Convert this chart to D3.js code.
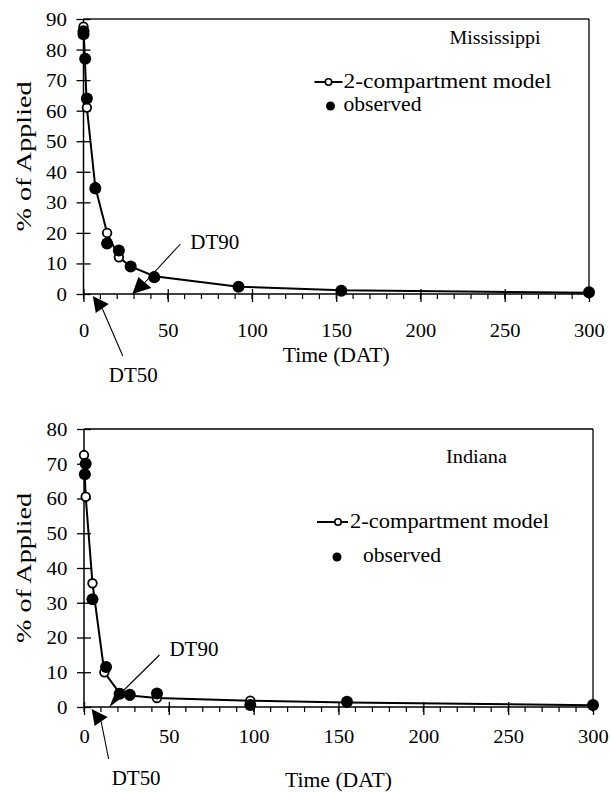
<!DOCTYPE html>
<html>
<head>
<meta charset="utf-8">
<script src="https://cdn.jsdelivr.net/npm/d3@7/dist/d3.min.js"></script>
<style>
  body { margin: 0; background: #fff; }
</style>
</head>
<body>
<svg id="chart" width="610" height="793"></svg>
<script>

var SERIF = "'Liberation Serif', 'Times New Roman', Times, serif";

// Mississippi panel (days after treatment, % of applied)
var msModelDays = [0, 2, 7, 14, 21, 28, 42, 92, 153, 300];
var msModelPct  = [87.5, 61, 35, 20, 12, 9, 5.8, 2.4, 1.2, 0.4];
var msObsDays   = [0, 0, 1, 2, 7, 14, 21, 28, 42, 92, 153, 300];
var msObsPct    = [86, 85, 77, 64, 34.5, 16.5, 14.2, 9, 5.5, 2.4, 1.1, 0.6];
var msYTicks    = [0, 10, 20, 30, 40, 50, 60, 70, 80, 90];
var msDT50 = 5.5, msDT90 = 29;

// Indiana panel
var inModelDays = [0, 1, 5, 12, 21, 27, 43, 98, 155, 300];
var inModelPct  = [72.5, 60.5, 35.6, 10, 4.0, 3.3, 2.6, 1.8, 1.3, 0.5];
var inObsDays   = [1, 0.5, 5, 13, 21, 27, 43, 98, 155, 300];
var inObsPct    = [70, 67, 31, 11.5, 3.8, 3.5, 3.9, 0.6, 1.5, 0.6];
var inYTicks    = [0, 10, 20, 30, 40, 50, 60, 70, 80];
var inDT50 = 4.5, inDT90 = 15;

var xTicks = [0, 50, 100, 150, 200, 250, 300];
var xMinor = d3.range(0, 301, 10);

var svg = d3.select("#chart");

// text with forced width so it matches the scanned lettering
function label(g, txt, x, y, size, len, anchor) {
  var t = g.append("text")
    .attr("x", x).attr("y", y)
    .style("font-family", SERIF)
    .style("font-size", size + "px")
    .attr("fill", "#000")
    .attr("text-anchor", anchor || "start")
    .text(txt);
  if (len) t.attr("textLength", len).attr("lengthAdjust", "spacingAndGlyphs");
  return t;
}

function drawPanel(p) {
  var w = p.right - p.left, h = p.bottom - p.top;
  var g = svg.append("g").attr("transform", "translate(" + p.left + "," + p.top + ")");

  var x = d3.scaleLinear().domain([0, 300]).range([0, w]);
  var y = d3.scaleLinear().domain([0, p.yMax]).range([h, 0]);

  // frame (top + right)
  g.append("line").attr("x1", 0).attr("x2", w).attr("y1", 0).attr("y2", 0)
    .attr("stroke", p.topColor).attr("stroke-width", p.topWidth);
  g.append("line").attr("x1", w).attr("x2", w).attr("y1", 0).attr("y2", h)
    .attr("stroke", "#000").attr("stroke-width", 1.3);

  // y axis
  var yAx = g.append("g").call(d3.axisLeft(y).tickValues(p.yTicks).tickSize(7).tickPadding(8));
  yAx.attr("font-family", null).attr("font-size", null);
  yAx.select(".domain").attr("stroke-width", 1.5).attr("d", "M0," + h + "V0");
  yAx.selectAll(".tick line").attr("x1", -7).attr("x2", 7).attr("stroke-width", 1.3);
  yAx.selectAll(".tick text").attr("x", -15)
    .style("font-family", SERIF).style("font-size", "19px")
    .attr("transform", "scale(1.1,1)").attr("dy", "0.34em");

  // x axis, minor ticks first
  g.append("g").selectAll("line").data(xMinor).enter().append("line")
    .attr("x1", function(d) { return x(d); }).attr("x2", function(d) { return x(d); })
    .attr("y1", h).attr("y2", h + 5).attr("stroke", "#000").attr("stroke-width", 1.2);
  var xAx = g.append("g").attr("transform", "translate(0," + h + ")")
    .call(d3.axisBottom(x).tickValues(xTicks).tickSize(8).tickPadding(0));
  xAx.attr("font-family", null).attr("font-size", null);
  xAx.select(".domain").attr("stroke-width", 1.5).attr("d", "M0,0H" + w);
  xAx.selectAll(".tick line").attr("y1", -5).attr("y2", 8).attr("stroke-width", 1.3);
  xAx.selectAll(".tick text")
    .style("font-family", SERIF).style("font-size", "19px")
    .attr("y", p.xLabelY).attr("dy", 0)
    .attr("transform", "scale(1.08,1)");

  // axis titles
  label(g, "Time (DAT)", w / 2, h + p.titleY, 21, 107, "middle");
  label(g, "% of Applied", 0, 0, 20, 150, "middle")
    .attr("transform", "translate(" + (31 - p.left) + "," + (h / 2) + ") rotate(-90)");

  // model line + markers
  var model = p.modelDays.map(function(d, i) { return { t: d, v: p.modelPct[i] }; });
  var obs = p.obsDays.map(function(d, i) { return { t: d, v: p.obsPct[i] }; });

  g.append("path").datum(model)
    .attr("fill", "none").attr("stroke", "#000").attr("stroke-width", 2)
    .attr("d", d3.line().x(function(d) { return x(d.t); }).y(function(d) { return y(d.v); }));

  g.selectAll(".open").data(model).enter().append("circle").attr("class", "open")
    .attr("cx", function(d) { return x(d.t); }).attr("cy", function(d) { return y(d.v); })
    .attr("r", 4.3).attr("fill", "#fff").attr("stroke", "#000").attr("stroke-width", 1.8);

  g.selectAll(".obs").data(obs).enter().append("circle").attr("class", "obs")
    .attr("cx", function(d) { return x(d.t); }).attr("cy", function(d) { return y(d.v); })
    .attr("r", 6).attr("fill", "#000");

  // DT50 / DT90 arrows
  function arrow(day, dy, tri, lineEnd, txt, txtPos) {
    var a = g.append("g").attr("transform", "translate(" + x(day) + "," + (h + dy) + ")");
    a.append("path")
      .attr("d", "M0,0L" + tri[0][0] + "," + tri[0][1] + "L" + tri[1][0] + "," + tri[1][1] + "Z")
      .attr("fill", "#000");
    var mx = (tri[0][0] + tri[1][0]) / 2, my = (tri[0][1] + tri[1][1]) / 2;
    a.append("line").attr("x1", mx).attr("y1", my).attr("x2", lineEnd[0]).attr("y2", lineEnd[1])
      .attr("stroke", "#000").attr("stroke-width", 1.1);
    label(a, txt, txtPos[0], txtPos[1], 20, 49);
  }
  arrow(p.dt90, 0, p.dt90Tri, p.dt90Line, "DT90", p.dt90Text);
  arrow(p.dt50, 2, [[16, 8], [3, 17]], p.dt50Line, "DT50", p.dt50Text);

  // legend
  var L = p.legend;
  label(g, p.site, L.siteX, L.siteY, 19, p.siteLen);
  g.append("line").attr("x1", L.lx1).attr("x2", L.lx2).attr("y1", L.ly).attr("y2", L.ly)
    .attr("stroke", "#000").attr("stroke-width", 2);
  g.append("circle").attr("cx", L.lcx).attr("cy", L.ly).attr("r", 3.2)
    .attr("fill", "#fff").attr("stroke", "#000").attr("stroke-width", 1.6);
  label(g, "2-compartment model", L.tx, L.ly + 6, 20, L.modelLen);
  g.append("circle").attr("cx", L.dx).attr("cy", L.dy).attr("r", 4.5).attr("fill", "#000");
  label(g, "observed", L.ox, L.dy + 5, 20, 78);
}

drawPanel({
  left: 83.5, right: 589, top: 19, bottom: 294, yMax: 90, yTicks: msYTicks,
  topColor: "#555", topWidth: 2.2, xLabelY: 43, titleY: 68,
  modelDays: msModelDays, modelPct: msModelPct, obsDays: msObsDays, obsPct: msObsPct,
  dt50: msDT50, dt90: msDT90,
  dt90Tri: [[6, -17], [19, -6]], dt90Line: [48, -50], dt90Text: [58, -45],
  dt50Line: [30, 60], dt50Text: [16, 86],
  site: "Mississippi", siteLen: 91,
  legend: { siteX: 366, siteY: 25, lx1: 231, lx2: 259, ly: 63, lcx: 245, tx: 260, modelLen: 208,
            dx: 247, dy: 87, ox: 260 }
});

drawPanel({
  left: 84, right: 593, top: 429, bottom: 707, yMax: 80, yTicks: inYTicks,
  topColor: "#000", topWidth: 1.4, xLabelY: 36, titleY: 80,
  modelDays: inModelDays, modelPct: inModelPct, obsDays: inObsDays, obsPct: inObsPct,
  dt50: inDT50, dt90: inDT90,
  dt90Tri: [[6, -15], [17, -13]], dt90Line: [50, -52], dt90Text: [60, -51],
  dt50Line: [17, 50], dt50Text: [20, 76],
  site: "Indiana", siteLen: 61,
  legend: { siteX: 362, siteY: 34, lx1: 233, lx2: 264, ly: 93, lcx: 254, tx: 266, modelLen: 199,
            dx: 253, dy: 128, ox: 279 }
});

</script>
</body>
</html>
